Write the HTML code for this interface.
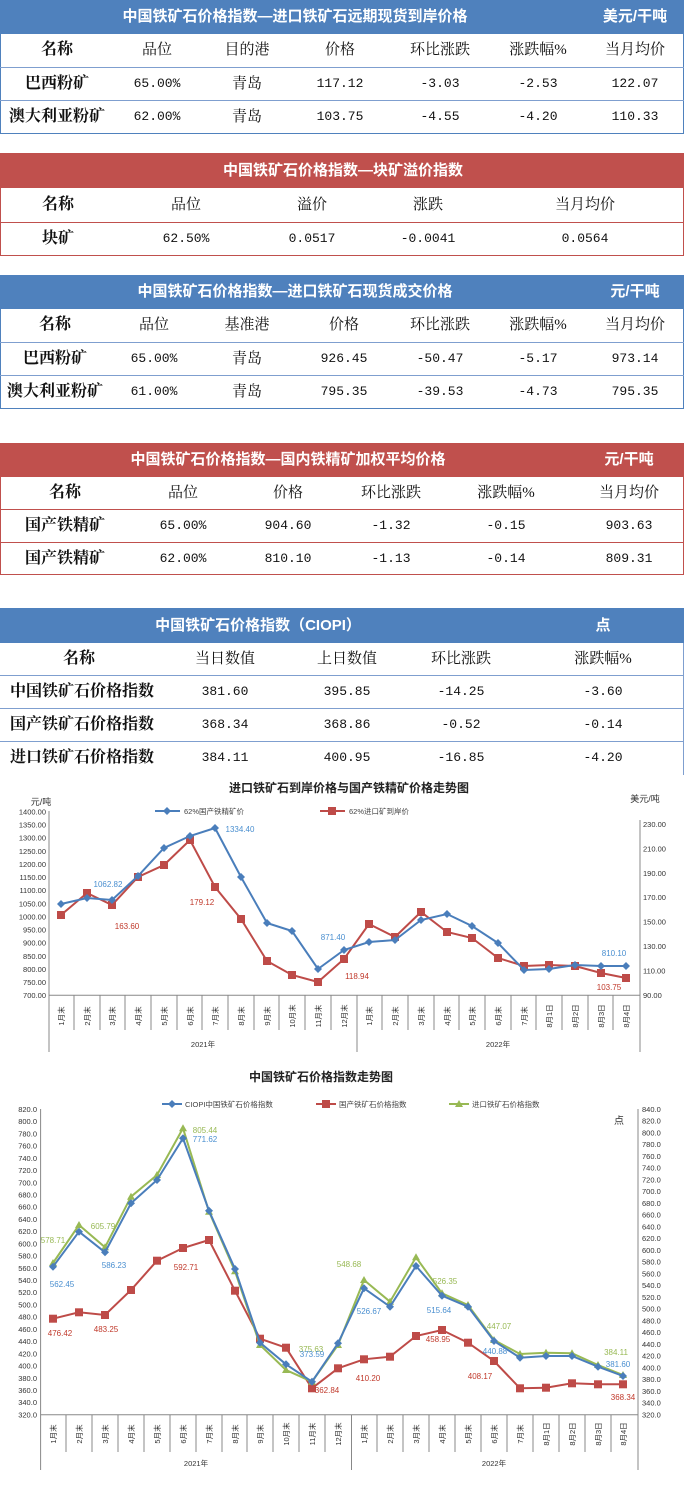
<!DOCTYPE html>
<html><head><meta charset="utf-8">
<style>
body{margin:0;background:#fff;width:684px;height:1488px;position:relative;overflow:hidden;font-family:"Liberation Serif","Noto Serif CJK SC",serif;}
.band{position:absolute;left:0;width:684px;color:#fff;font-family:"Liberation Sans","Noto Sans CJK SC",sans-serif;font-weight:bold;}
.blue{background:#4f81bd}.red{background:#c0504d}
.box{position:absolute;left:0;width:682px;border:1px solid #4f81bd;border-top:none}
.rbox{border-color:#c0504d}
.ln{position:absolute;left:0;width:684px;height:1px;background:#4f81bd}
.rl{background:#c0504d}
.t{position:absolute;width:160px;margin-left:-80px;text-align:center;height:20px;line-height:20px;font-size:15px;color:#111;white-space:nowrap}
.w{color:#fff;font-family:"Liberation Sans","Noto Sans CJK SC",sans-serif;font-weight:bold;font-size:15px}
.b{font-weight:bold;font-family:"Liberation Serif","Noto Serif CJK SC",serif;font-size:16px}
.n{font-family:"Liberation Mono","Noto Sans CJK SC",monospace;font-size:13px}
.l{margin-left:0;text-align:left}
svg text{font-family:"Liberation Sans","Noto Sans CJK SC",sans-serif}
</style></head><body>

<!-- Table 1 -->
<div class="band blue" style="top:0;height:34px"></div>
<div class="box" style="top:34px;height:99px"></div>
<div class="ln" style="top:67px;background:#7f9fcf"></div><div class="ln" style="top:100px;background:#7f9fcf"></div>
<div class="t w" style="left:295px;top:7px;width:400px;margin-left:-200px">中国铁矿石价格指数—进口铁矿石远期现货到岸价格</div>
<div class="t w" style="left:635px;top:7px">美元/干吨</div>
<div class="t b" style="left:57px;top:40px">名称</div>
<div class="t" style="left:157px;top:40px">品位</div>
<div class="t" style="left:247px;top:40px">目的港</div>
<div class="t" style="left:340px;top:40px">价格</div>
<div class="t" style="left:440px;top:40px">环比涨跌</div>
<div class="t" style="left:538px;top:40px">涨跌幅%</div>
<div class="t" style="left:635px;top:40px">当月均价</div>
<div class="t b" style="left:57px;top:74px">巴西粉矿</div>
<div class="t n" style="left:157px;top:74px">65.00%</div>
<div class="t" style="left:247px;top:74px">青岛</div>
<div class="t n" style="left:340px;top:74px">117.12</div>
<div class="t n" style="left:440px;top:74px">-3.03</div>
<div class="t n" style="left:538px;top:74px">-2.53</div>
<div class="t n" style="left:635px;top:74px">122.07</div>
<div class="t b" style="left:57px;top:107px">澳大利亚粉矿</div>
<div class="t n" style="left:157px;top:107px">62.00%</div>
<div class="t" style="left:247px;top:107px">青岛</div>
<div class="t n" style="left:340px;top:107px">103.75</div>
<div class="t n" style="left:440px;top:107px">-4.55</div>
<div class="t n" style="left:538px;top:107px">-4.20</div>
<div class="t n" style="left:635px;top:107px">110.33</div>

<!-- Table 2 -->
<div class="band red" style="top:153px;height:35px"></div>
<div class="box rbox" style="top:188px;height:67px"></div>
<div class="ln rl" style="top:222px"></div>
<div class="t w" style="left:343px;top:161px;width:400px;margin-left:-200px">中国铁矿石价格指数—块矿溢价指数</div>
<div class="t b" style="left:58px;top:195px">名称</div>
<div class="t" style="left:186px;top:195px">品位</div>
<div class="t" style="left:312px;top:195px">溢价</div>
<div class="t" style="left:428px;top:195px">涨跌</div>
<div class="t" style="left:585px;top:195px">当月均价</div>
<div class="t b" style="left:58px;top:229px">块矿</div>
<div class="t n" style="left:186px;top:229px">62.50%</div>
<div class="t n" style="left:312px;top:229px">0.0517</div>
<div class="t n" style="left:428px;top:229px">-0.0041</div>
<div class="t n" style="left:585px;top:229px">0.0564</div>

<!-- Table 3 -->
<div class="band blue" style="top:275px;height:34px"></div>
<div class="box" style="top:309px;height:99px"></div>
<div class="ln" style="top:342px;background:#7f9fcf"></div><div class="ln" style="top:375px;background:#7f9fcf"></div>
<div class="t w" style="left:295px;top:282px;width:400px;margin-left:-200px">中国铁矿石价格指数—进口铁矿石现货成交价格</div>
<div class="t w" style="left:635px;top:282px">元/干吨</div>
<div class="t b" style="left:55px;top:315px">名称</div>
<div class="t" style="left:154px;top:315px">品位</div>
<div class="t" style="left:247px;top:315px">基准港</div>
<div class="t" style="left:344px;top:315px">价格</div>
<div class="t" style="left:440px;top:315px">环比涨跌</div>
<div class="t" style="left:538px;top:315px">涨跌幅%</div>
<div class="t" style="left:635px;top:315px">当月均价</div>
<div class="t b" style="left:55px;top:349px">巴西粉矿</div>
<div class="t n" style="left:154px;top:349px">65.00%</div>
<div class="t" style="left:247px;top:349px">青岛</div>
<div class="t n" style="left:344px;top:349px">926.45</div>
<div class="t n" style="left:440px;top:349px">-50.47</div>
<div class="t n" style="left:538px;top:349px">-5.17</div>
<div class="t n" style="left:635px;top:349px">973.14</div>
<div class="t b" style="left:55px;top:382px">澳大利亚粉矿</div>
<div class="t n" style="left:154px;top:382px">61.00%</div>
<div class="t" style="left:247px;top:382px">青岛</div>
<div class="t n" style="left:344px;top:382px">795.35</div>
<div class="t n" style="left:440px;top:382px">-39.53</div>
<div class="t n" style="left:538px;top:382px">-4.73</div>
<div class="t n" style="left:635px;top:382px">795.35</div>

<!-- Table 4 -->
<div class="band red" style="top:443px;height:34px"></div>
<div class="box rbox" style="top:477px;height:97px"></div>
<div class="ln rl" style="top:509px"></div><div class="ln rl" style="top:542px"></div>
<div class="t w" style="left:288px;top:450px;width:400px;margin-left:-200px">中国铁矿石价格指数—国内铁精矿加权平均价格</div>
<div class="t w" style="left:629px;top:450px">元/干吨</div>
<div class="t b" style="left:65px;top:483px">名称</div>
<div class="t" style="left:183px;top:483px">品位</div>
<div class="t" style="left:288px;top:483px">价格</div>
<div class="t" style="left:391px;top:483px">环比涨跌</div>
<div class="t" style="left:506px;top:483px">涨跌幅%</div>
<div class="t" style="left:629px;top:483px">当月均价</div>
<div class="t b" style="left:65px;top:516px">国产铁精矿</div>
<div class="t n" style="left:183px;top:516px">65.00%</div>
<div class="t n" style="left:288px;top:516px">904.60</div>
<div class="t n" style="left:391px;top:516px">-1.32</div>
<div class="t n" style="left:506px;top:516px">-0.15</div>
<div class="t n" style="left:629px;top:516px">903.63</div>
<div class="t b" style="left:65px;top:549px">国产铁精矿</div>
<div class="t n" style="left:183px;top:549px">62.00%</div>
<div class="t n" style="left:288px;top:549px">810.10</div>
<div class="t n" style="left:391px;top:549px">-1.13</div>
<div class="t n" style="left:506px;top:549px">-0.14</div>
<div class="t n" style="left:629px;top:549px">809.31</div>

<!-- Table 5 -->
<div class="band blue" style="top:608px;height:35px"></div>
<div class="ln" style="top:675px;background:#7f9fcf"></div><div class="ln" style="top:708px;background:#7f9fcf"></div><div class="ln" style="top:741px;background:#7f9fcf"></div>
<div style="position:absolute;left:683px;top:643px;width:1px;height:132px;background:#7f9fcf"></div>
<div class="t w" style="left:258px;top:616px;width:400px;margin-left:-200px">中国铁矿石价格指数（CIOPI）</div>
<div class="t w" style="left:603px;top:616px">点</div>
<div class="t b" style="left:79px;top:649px">名称</div>
<div class="t" style="left:225px;top:649px">当日数值</div>
<div class="t" style="left:347px;top:649px">上日数值</div>
<div class="t" style="left:461px;top:649px">环比涨跌</div>
<div class="t" style="left:603px;top:649px">涨跌幅%</div>
<div class="t b l" style="left:10px;top:682px">中国铁矿石价格指数</div>
<div class="t n" style="left:225px;top:682px">381.60</div>
<div class="t n" style="left:347px;top:682px">395.85</div>
<div class="t n" style="left:461px;top:682px">-14.25</div>
<div class="t n" style="left:603px;top:682px">-3.60</div>
<div class="t b l" style="left:10px;top:715px">国产铁矿石价格指数</div>
<div class="t n" style="left:225px;top:715px">368.34</div>
<div class="t n" style="left:347px;top:715px">368.86</div>
<div class="t n" style="left:461px;top:715px">-0.52</div>
<div class="t n" style="left:603px;top:715px">-0.14</div>
<div class="t b l" style="left:10px;top:748px">进口铁矿石价格指数</div>
<div class="t n" style="left:225px;top:748px">384.11</div>
<div class="t n" style="left:347px;top:748px">400.95</div>
<div class="t n" style="left:461px;top:748px">-16.85</div>
<div class="t n" style="left:603px;top:748px">-4.20</div>

<svg width="684" height="1488" style="position:absolute;left:0;top:0" xmlns="http://www.w3.org/2000/svg">
<defs>
<marker id="md" markerUnits="userSpaceOnUse" markerWidth="10" markerHeight="10" refX="5" refY="5"><path d="M5 1 L9 5 L5 9 L1 5Z" fill="#4a7ebb"/></marker>
<marker id="ms" markerUnits="userSpaceOnUse" markerWidth="10" markerHeight="10" refX="5" refY="5"><rect x="1" y="1" width="8" height="8" fill="#be4b48"/></marker>
<marker id="mt" markerUnits="userSpaceOnUse" markerWidth="10" markerHeight="10" refX="5" refY="5"><path d="M5 1 L9 8 L1 8Z" fill="#98b954"/></marker>
</defs>

<!-- Chart 1 -->
<text x="349" y="792" font-size="12" font-weight="bold" text-anchor="middle" fill="#222">进口铁矿石到岸价格与国产铁精矿价格走势图</text>
<text x="41" y="805" font-size="9" text-anchor="middle" fill="#333">元/吨</text>
<text x="645" y="802" font-size="9" text-anchor="middle" fill="#333">美元/吨</text>
<line x1="155" y1="811" x2="180" y2="811" stroke="#4a7ebb" stroke-width="2" marker-mid="url(#md)"/>
<polyline points="155,811 167,811 180,811" fill="none" stroke="#4a7ebb" stroke-width="2" marker-mid="url(#md)"/>
<text x="184" y="814" font-size="7.5" fill="#444">62%国产铁精矿价</text>
<polyline points="320,811 332,811 345,811" fill="none" stroke="#be4b48" stroke-width="2" marker-mid="url(#ms)"/>
<text x="349" y="814" font-size="7.5" fill="#444">62%进口矿到岸价</text>
<g stroke="#888" stroke-width="1" fill="none">
<line x1="49" y1="811" x2="49" y2="1052"/><line x1="640" y1="820" x2="640" y2="1052"/><line x1="357" y1="995" x2="357" y2="1052"/>
<line x1="49" y1="995.3" x2="640" y2="995.3"/>
<path d="M74 995v35M100 995v35M125 995v35M151 995v35M177 995v35M202 995v35M228 995v35M254 995v35M279 995v35M305 995v35M331 995v35M382 995v35M408 995v35M434 995v35M459 995v35M485 995v35M511 995v35M536 995v35M562 995v35M588 995v35M613 995v35"/>
</g>
<g font-size="7.5" fill="#333" text-anchor="end">
<text x="46" y="814.5">1400.00</text><text x="46" y="827.6">1350.00</text><text x="46" y="840.7">1300.00</text><text x="46" y="853.8">1250.00</text><text x="46" y="866.9">1200.00</text><text x="46" y="880.1">1150.00</text><text x="46" y="893.2">1100.00</text><text x="46" y="906.3">1050.00</text><text x="46" y="919.4">1000.00</text><text x="46" y="932.5">950.00</text><text x="46" y="945.6">900.00</text><text x="46" y="958.8">850.00</text><text x="46" y="971.9">800.00</text><text x="46" y="985">750.00</text><text x="46" y="998.1">700.00</text>
</g>
<g font-size="7.5" fill="#333">
<text x="643" y="826.8">230.00</text><text x="643" y="851.3">210.00</text><text x="643" y="875.8">190.00</text><text x="643" y="900.2">170.00</text><text x="643" y="924.7">150.00</text><text x="643" y="949.2">130.00</text><text x="643" y="973.7">110.00</text><text x="643" y="998.1">90.00</text>
</g>
<g font-size="7.5" fill="#333" text-anchor="middle">
<text transform="translate(64,1016) rotate(-90)">1月末</text><text transform="translate(90,1016) rotate(-90)">2月末</text><text transform="translate(115,1016) rotate(-90)">3月末</text><text transform="translate(141,1016) rotate(-90)">4月末</text><text transform="translate(167,1016) rotate(-90)">5月末</text><text transform="translate(193,1016) rotate(-90)">6月末</text><text transform="translate(218,1016) rotate(-90)">7月末</text><text transform="translate(244,1016) rotate(-90)">8月末</text><text transform="translate(270,1016) rotate(-90)">9月末</text><text transform="translate(295,1016) rotate(-90)">10月末</text><text transform="translate(321,1016) rotate(-90)">11月末</text><text transform="translate(347,1016) rotate(-90)">12月末</text><text transform="translate(372,1016) rotate(-90)">1月末</text><text transform="translate(398,1016) rotate(-90)">2月末</text><text transform="translate(424,1016) rotate(-90)">3月末</text><text transform="translate(450,1016) rotate(-90)">4月末</text><text transform="translate(475,1016) rotate(-90)">5月末</text><text transform="translate(501,1016) rotate(-90)">6月末</text><text transform="translate(527,1016) rotate(-90)">7月末</text><text transform="translate(552,1016) rotate(-90)">8月1日</text><text transform="translate(578,1016) rotate(-90)">8月2日</text><text transform="translate(604,1016) rotate(-90)">8月3日</text><text transform="translate(629,1016) rotate(-90)">8月4日</text>
<text x="203" y="1047">2021年</text><text x="498" y="1047">2022年</text>
</g>
<polyline fill="none" stroke="#be4b48" stroke-width="2" marker-start="url(#ms)" marker-mid="url(#ms)" marker-end="url(#ms)" points="61,915 87,893 112,905 138,877 164,865 190,840 215,887 241,919 267,961 292,975 318,982 344,959 369,924 395,937 421,912 447,932 472,938 498,958 524,966 549,965 575,966 601,973 626,978"/>
<polyline fill="none" stroke="#4a7ebb" stroke-width="2" marker-start="url(#md)" marker-mid="url(#md)" marker-end="url(#md)" points="61,904 87,898 112,900 138,876 164,848 190,836 215,828 241,877 267,923 292,931 318,969 344,950 369,942 395,940 421,920 447,914 472,926 498,943 524,970 549,969 575,965 601,966 626,966"/>
<g font-size="8" text-anchor="middle">
<text x="108" y="887" fill="#4a8fd0">1062.82</text><text x="240" y="832" fill="#4a8fd0">1334.40</text><text x="333" y="940" fill="#4a8fd0">871.40</text><text x="614" y="956" fill="#4a8fd0">810.10</text>
<text x="202" y="905" fill="#c0392b">179.12</text><text x="127" y="929" fill="#c0392b">163.60</text><text x="357" y="979" fill="#c0392b">118.94</text><text x="609" y="990" fill="#c0392b">103.75</text>
</g>

<!-- Chart 2 -->
<text x="321" y="1081" font-size="12" font-weight="bold" text-anchor="middle" fill="#222">中国铁矿石价格指数走势图</text>
<polyline points="162,1104 172,1104 182,1104" fill="none" stroke="#4a7ebb" stroke-width="2" marker-mid="url(#md)"/>
<text x="185" y="1107" font-size="7.5" fill="#444">CIOPI中国铁矿石价格指数</text>
<polyline points="316,1104 326,1104 336,1104" fill="none" stroke="#be4b48" stroke-width="2" marker-mid="url(#ms)"/>
<text x="339" y="1107" font-size="7.5" fill="#444">国产铁矿石价格指数</text>
<polyline points="449,1104 459,1104 469,1104" fill="none" stroke="#98b954" stroke-width="2" marker-mid="url(#mt)"/>
<text x="472" y="1107" font-size="7.5" fill="#444">进口铁矿石价格指数</text>
<text x="619" y="1124" font-size="10" text-anchor="middle" fill="#333">点</text>
<g stroke="#888" stroke-width="1" fill="none">
<line x1="40.6" y1="1109" x2="40.6" y2="1470"/><line x1="638" y1="1109" x2="638" y2="1470"/><line x1="351.5" y1="1415" x2="351.5" y2="1470"/>
<line x1="40.6" y1="1414.7" x2="638" y2="1414.7"/>
<path d="M66 1415v37M92 1415v37M118 1415v37M144 1415v37M170 1415v37M196 1415v37M222 1415v37M247 1415v37M273 1415v37M299 1415v37M325 1415v37M377 1415v37M403 1415v37M429 1415v37M455 1415v37M481 1415v37M507 1415v37M533 1415v37M559 1415v37M585 1415v37M611 1415v37"/>
</g>
<g font-size="7.5" fill="#333" text-anchor="end">
<text x="37" y="1112">820.0</text><text x="37" y="1124.2">800.0</text><text x="37" y="1136.4">780.0</text><text x="37" y="1148.7">760.0</text><text x="37" y="1160.9">740.0</text><text x="37" y="1173.1">720.0</text><text x="37" y="1185.3">700.0</text><text x="37" y="1197.5">680.0</text><text x="37" y="1209.7">660.0</text><text x="37" y="1222">640.0</text><text x="37" y="1234.2">620.0</text><text x="37" y="1246.4">600.0</text><text x="37" y="1258.6">580.0</text><text x="37" y="1270.8">560.0</text><text x="37" y="1283">540.0</text><text x="37" y="1295.2">520.0</text><text x="37" y="1307.5">500.0</text><text x="37" y="1319.7">480.0</text><text x="37" y="1331.9">460.0</text><text x="37" y="1344.1">440.0</text><text x="37" y="1356.3">420.0</text><text x="37" y="1368.5">400.0</text><text x="37" y="1380.8">380.0</text><text x="37" y="1393">360.0</text><text x="37" y="1405.2">340.0</text><text x="37" y="1417.4">320.0</text>
</g>
<g font-size="7.5" fill="#333">
<text x="642" y="1112">840.0</text><text x="642" y="1123.7">820.0</text><text x="642" y="1135.5">800.0</text><text x="642" y="1147.2">780.0</text><text x="642" y="1159">760.0</text><text x="642" y="1170.7">740.0</text><text x="642" y="1182.5">720.0</text><text x="642" y="1194.2">700.0</text><text x="642" y="1206">680.0</text><text x="642" y="1217.7">660.0</text><text x="642" y="1229.5">640.0</text><text x="642" y="1241.2">620.0</text><text x="642" y="1253">600.0</text><text x="642" y="1264.7">580.0</text><text x="642" y="1276.5">560.0</text><text x="642" y="1288.2">540.0</text><text x="642" y="1300">520.0</text><text x="642" y="1311.7">500.0</text><text x="642" y="1323.4">480.0</text><text x="642" y="1335.2">460.0</text><text x="642" y="1346.9">440.0</text><text x="642" y="1358.7">420.0</text><text x="642" y="1370.4">400.0</text><text x="642" y="1382.2">380.0</text><text x="642" y="1393.9">360.0</text><text x="642" y="1405.7">340.0</text><text x="642" y="1417.4">320.0</text>
</g>
<g font-size="7.5" fill="#333" text-anchor="middle">
<text transform="translate(56,1434) rotate(-90)">1月末</text><text transform="translate(82,1434) rotate(-90)">2月末</text><text transform="translate(108,1434) rotate(-90)">3月末</text><text transform="translate(134,1434) rotate(-90)">4月末</text><text transform="translate(160,1434) rotate(-90)">5月末</text><text transform="translate(186,1434) rotate(-90)">6月末</text><text transform="translate(212,1434) rotate(-90)">7月末</text><text transform="translate(238,1434) rotate(-90)">8月末</text><text transform="translate(263,1434) rotate(-90)">9月末</text><text transform="translate(289,1434) rotate(-90)">10月末</text><text transform="translate(315,1434) rotate(-90)">11月末</text><text transform="translate(341,1434) rotate(-90)">12月末</text><text transform="translate(367,1434) rotate(-90)">1月末</text><text transform="translate(393,1434) rotate(-90)">2月末</text><text transform="translate(419,1434) rotate(-90)">3月末</text><text transform="translate(445,1434) rotate(-90)">4月末</text><text transform="translate(471,1434) rotate(-90)">5月末</text><text transform="translate(497,1434) rotate(-90)">6月末</text><text transform="translate(523,1434) rotate(-90)">7月末</text><text transform="translate(549,1434) rotate(-90)">8月1日</text><text transform="translate(575,1434) rotate(-90)">8月2日</text><text transform="translate(601,1434) rotate(-90)">8月3日</text><text transform="translate(626,1434) rotate(-90)">8月4日</text>
<text x="196" y="1466">2021年</text><text x="494" y="1466">2022年</text>
</g>
<polyline fill="none" stroke="#be4b48" stroke-width="2" marker-start="url(#ms)" marker-mid="url(#ms)" marker-end="url(#ms)" points="53,1318.7 79,1312.3 105,1315 131,1290 157,1260.7 183,1248 209,1240 235,1290.7 260,1338.7 286,1347.7 312,1388.3 338,1368.3 364,1359.3 390,1356.7 416,1336 442,1330 468,1342.7 494,1361 520,1388.3 546,1387.7 572,1383.3 598,1384.3 623,1384.3"/>
<polyline fill="none" stroke="#98b954" stroke-width="2" marker-start="url(#mt)" marker-mid="url(#mt)" marker-end="url(#mt)" points="53,1263 79,1225 105,1247.3 131,1196.7 157,1175 183,1128.3 209,1211.7 235,1271.3 260,1345 286,1370 312,1381.7 338,1345 364,1280 390,1301.7 416,1257.3 442,1293.3 468,1305 494,1340 520,1354 546,1352.7 572,1353.3 598,1365 623,1375"/>
<polyline fill="none" stroke="#4a7ebb" stroke-width="2" marker-start="url(#md)" marker-mid="url(#md)" marker-end="url(#md)" points="53,1266.7 79,1231.7 105,1252.3 131,1203.3 157,1180 183,1138.3 209,1210.7 235,1269 260,1342.7 286,1364.3 312,1381.7 338,1343.3 364,1288.3 390,1306.7 416,1266 442,1295.7 468,1306.7 494,1341 520,1357.7 546,1356 572,1356 598,1366.7 623,1376"/>
<g font-size="8" text-anchor="middle">
<text x="53" y="1243" fill="#98b954">578.71</text><text x="103" y="1229" fill="#98b954">605.79</text><text x="205" y="1133" fill="#98b954">805.44</text><text x="311" y="1352" fill="#98b954">375.63</text><text x="349" y="1267" fill="#98b954">548.68</text><text x="445" y="1284" fill="#98b954">526.35</text><text x="499" y="1329" fill="#98b954">447.07</text><text x="616" y="1355" fill="#98b954">384.11</text>
<text x="62" y="1287" fill="#4a8fd0">562.45</text><text x="114" y="1268" fill="#4a8fd0">586.23</text><text x="205" y="1142" fill="#4a8fd0">771.62</text><text x="312" y="1357" fill="#4a8fd0">373.59</text><text x="369" y="1314" fill="#4a8fd0">526.67</text><text x="439" y="1313" fill="#4a8fd0">515.64</text><text x="495" y="1354" fill="#4a8fd0">440.88</text><text x="618" y="1367" fill="#4a8fd0">381.60</text>
<text x="60" y="1336" fill="#c0392b">476.42</text><text x="106" y="1332" fill="#c0392b">483.25</text><text x="186" y="1270" fill="#c0392b">592.71</text><text x="327" y="1393" fill="#c0392b">362.84</text><text x="368" y="1381" fill="#c0392b">410.20</text><text x="438" y="1342" fill="#c0392b">458.95</text><text x="480" y="1379" fill="#c0392b">408.17</text><text x="623" y="1400" fill="#c0392b">368.34</text>
</g>
</svg>
</body></html>
